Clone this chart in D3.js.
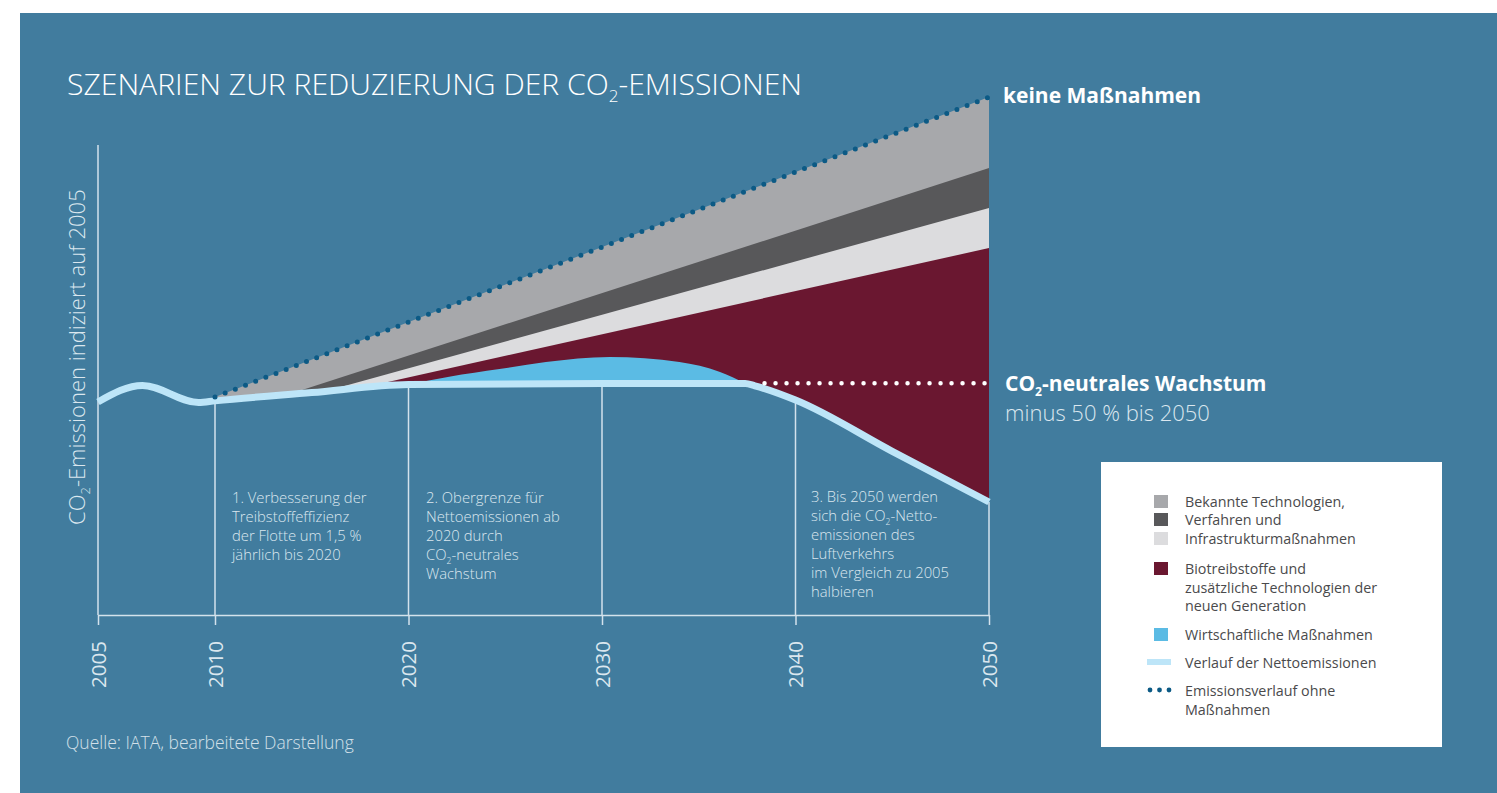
<!DOCTYPE html>
<html lang="de">
<head>
    <meta charset="UTF-8">
    <title>Szenarien CO2</title>
    <script src="https://cdn.jsdelivr.net/npm/d3@7"></script>
    <style>
        body { margin: 0; background: #fff; }
        svg { display: block; font-family: "Open Sans", "Noto Sans", sans-serif; }
    </style>
</head>
<body>
<div id="graphic"></div>

<script>
    // axis ticks
    var tickYears = [2005, 2010, 2020, 2030, 2040, 2050];

    // net emissions (index, 2005 = 100)
    var netYears  = [2005, 2006.9, 2009.3, 2010, 2015, 2020, 2030, 2037.4, 2037.9, 2040, 2045, 2050];
    var netValues = [100.5, 108.3, 100.2, 101, 104.9, 108.7, 109.2, 109.2, 108.1, 101.4, 77.2, 53.3];

    // emissions without measures
    var noMeasureYears  = [2010, 2050];
    var noMeasureValues = [102.8, 244.3];

    // reduction bands: start on the net line, end at 2050
    var bandNames       = ['Bekannte Technologien', 'Verfahren', 'Infrastrukturmaßnahmen', 'Biotreibstoffe'];
    var bandStartYears  = [2010, 2013.9, 2015.8, 2017.6];
    var bandStartValues = [102.8, 104.4, 105.8, 107.2];
    var bandEndValues   = [244.3, 210.8, 192, 173.1];
    var bandColors      = ['#a7a8ab', '#58585a', '#dcdcde', '#6a1730'];

    // economic measures (bump above net line)
    var bumpYears  = [2020, 2022.1, 2024.7, 2027.1, 2030.4, 2034, 2036.1, 2037.4];
    var bumpValues = [108.7, 112.4, 116, 119.3, 121.7, 119.3, 114.6, 109.2];

    // co2-neutral growth level
    var neutralYears  = [2038.4, 2050];
    var neutralValues = [109.3, 109.3];

    var legendItems = [
        {type: 'rect', color: '#a7a8ab', lines: ['Bekannte Technologien,']},
        {type: 'rect', color: '#58585a', lines: ['Verfahren und']},
        {type: 'rect', color: '#dcdcde', lines: ['Infrastrukturmaßnahmen']},
        {type: 'rect', color: '#6a1730', lines: ['Biotreibstoffe und', 'zusätzliche Technologien der', 'neuen Generation']},
        {type: 'rect', color: '#5bbbe4', lines: ['Wirtschaftliche Maßnahmen']},
        {type: 'line', color: '#bde5f8', lines: ['Verlauf der Nettoemissionen']},
        {type: 'dots', color: '#0c5a85', lines: ['Emissionsverlauf ohne', 'Maßnahmen']}
    ];

    var width = 1497;
    var height = 793;
    var bg = '#417c9e';
    var textLight = '#dbe7ef';

    var svg = d3.select('#graphic')
                .append('svg')
                .attr('width', width)
                .attr('height', height);

    svg.append('rect')
        .attr('x', 20).attr('y', 13)
        .attr('width', width - 20).attr('height', height - 13)
        .attr('fill', bg);

    // scales (2005-2010 is drawn wider than the rest)
    var x = d3.scaleLinear().domain([2005, 2010, 2050]).range([98, 215, 989]);
    var y = d3.scaleLinear().domain([0, 250]).range([615, 85]);

    var net = netYears.map((yr, i) => ({year: yr, value: netValues[i]}));
    var netAt = d3.scaleLinear().domain(netYears).range(netValues);

    var defs = svg.append('defs');

    // clip = everything above the net emissions line
    var aboveNet = d3.area()
        .curve(d3.curveMonotoneX)
        .x(d => x(d.year))
        .y0(0)
        .y1(d => y(d.value));

    defs.append('clipPath')
        .attr('id', 'above-net')
        .append('path')
        .attr('d', aboveNet(net));

    var chart = svg.append('g');
    var bands = chart.append('g').attr('clip-path', 'url(#above-net)');

    var bandArea = d3.area()
        .x(d => x(d[0]))
        .y0(y(0))
        .y1(d => y(d[1]));

    bandNames.forEach(function(name, i) {
        bands.append('path')
            .attr('class', 'band')
            .attr('d', bandArea([[bandStartYears[i], bandStartValues[i]], [2050, bandEndValues[i]]]))
            .attr('fill', bandColors[i]);
    });

    var bumpArea = d3.area()
        .curve(d3.curveMonotoneX)
        .x(d => x(d[0]))
        .y0(y(0))
        .y1(d => y(d[1]));

    bands.append('path')
        .attr('d', bumpArea(bumpYears.map((yr, i) => [yr, bumpValues[i]])))
        .attr('fill', '#5bbbe4');

    // grid lines up to the net line
    chart.selectAll('.grid')
        .data(tickYears.slice(1))
        .join('line')
        .attr('class', 'grid')
        .attr('x1', d => x(d)).attr('x2', d => x(d))
        .attr('y1', y(0))
        .attr('y2', d => y(netAt(d)))
        .attr('stroke', '#d3e2ec')
        .attr('stroke-width', 1.5);

    // y axis line
    chart.append('line')
        .attr('x1', x(2005)).attr('x2', x(2005))
        .attr('y1', y(0)).attr('y2', 145)
        .attr('stroke', '#d3e2ec')
        .attr('stroke-width', 1.5);

    // x axis
    var xAxis = chart.append('g')
        .attr('transform', 'translate(0,' + y(0) + ')')
        .call(d3.axisBottom(x).tickValues(tickYears).tickFormat(d3.format('d')).tickSize(10).tickSizeOuter(0));

    xAxis.select('.domain').attr('stroke', '#d3e2ec').attr('stroke-width', 1.5);
    xAxis.selectAll('.tick line').attr('stroke', '#d3e2ec').attr('stroke-width', 1.5);
    xAxis.selectAll('.tick text')
        .attr('transform', 'rotate(-90)')
        .attr('x', -26)
        .attr('y', 0)
        .attr('dy', '0.36em')
        .attr('text-anchor', 'end')
        .attr('fill', textLight)
        .attr('font-size', 20.5)
        .attr('font-weight', 400)
        .attr('font-family', '"Open Sans", sans-serif');

    // net emissions line
    var netLine = d3.line()
        .curve(d3.curveMonotoneX)
        .x(d => x(d.year))
        .y(d => y(d.value));

    chart.append('path')
        .attr('d', netLine(net))
        .attr('fill', 'none')
        .attr('stroke', '#bde5f8')
        .attr('stroke-width', 7);

    // dotted lines
    var straight = d3.line().x(d => x(d[0])).y(d => y(d[1]));

    chart.append('path')
        .attr('d', straight(noMeasureYears.map((yr, i) => [yr, noMeasureValues[i]])))
        .attr('fill', 'none')
        .attr('stroke', '#0c5a85')
        .attr('stroke-width', 5)
        .attr('stroke-linecap', 'round')
        .attr('stroke-dasharray', '0 10.9');

    chart.append('path')
        .attr('d', straight(neutralYears.map((yr, i) => [yr, neutralValues[i]])))
        .attr('fill', 'none')
        .attr('stroke', '#ffffff')
        .attr('stroke-width', 4.5)
        .attr('stroke-linecap', 'round')
        .attr('stroke-dasharray', '0 11');

    // title
    var title = svg.append('text')
        .attr('x', 67).attr('y', 95)
        .attr('fill', '#ffffff')
        .attr('font-size', 30)
        .attr('font-weight', 300)
        .attr('textLength', 735)
        .attr('lengthAdjust', 'spacingAndGlyphs');
    title.append('tspan').text('SZENARIEN ZUR REDUZIERUNG DER CO');
    title.append('tspan').attr('font-size', 17).attr('dy', 7).text('2');
    title.append('tspan').attr('dy', -7).text('-EMISSIONEN');

    // y label
    var yLabel = svg.append('text')
        .attr('transform', 'translate(85,525) rotate(-90)')
        .attr('fill', textLight)
        .attr('font-size', 22)
        .attr('font-weight', 300);
    yLabel.append('tspan').text('CO');
    yLabel.append('tspan').attr('font-size', 13).attr('dy', 5).text('2');
    yLabel.append('tspan').attr('dy', -5).text('-Emissionen indiziert auf 2005');

    // multi-line text with optional CO2 subscript
    function block(g, lines, x0, y0, lh, size, color, weight) {
        lines.forEach(function(line, i) {
            var t = g.append('text')
                .attr('x', x0).attr('y', y0 + i * lh)
                .attr('fill', color)
                .attr('font-size', size)
                .attr('font-weight', weight);
            var parts = line.split('CO2');
            var shift = Math.round(size * 0.24);
            parts.forEach(function(p, j) {
                var s = t.append('tspan').text(p);
                if (j > 0) s.attr('dy', -shift);
                if (j < parts.length - 1) {
                    t.append('tspan').text('CO');
                    t.append('tspan').attr('font-size', size * 0.58).attr('dy', shift).text('2');
                }
            });
        });
    }

    var notes = svg.append('g');
    block(notes, ['1. Verbesserung der', 'Treibstoffeffizienz', 'der Flotte um 1,5 %', 'jährlich bis 2020'],
        232, 503, 19, 14.8, textLight, 300);
    block(notes, ['2. Obergrenze für', 'Nettoemissionen ab', '2020 durch', 'CO2-neutrales', 'Wachstum'],
        426, 503, 19, 14.8, textLight, 300);
    block(notes, ['3. Bis 2050 werden', 'sich die CO2-Netto-', 'emissionen des', 'Luftverkehrs', 'im Vergleich zu 2005', 'halbieren'],
        811, 502, 19, 14.8, textLight, 300);

    // right-hand labels
    block(svg, ['keine Maßnahmen'], 1003, 103, 0, 21, '#ffffff', 700);
    block(svg, ['CO2-neutrales Wachstum'], 1005, 391, 0, 21, '#ffffff', 700);
    block(svg, ['minus 50 % bis 2050'], 1005, 421, 0, 22, textLight, 300);

    // source
    svg.append('text')
        .attr('x', 66).attr('y', 749)
        .attr('fill', '#d3e0e9')
        .attr('font-size', 17.5)
        .attr('font-weight', 300)
        .text('Quelle: IATA, bearbeitete Darstellung');

    // legend
    var legend = svg.append('g');
    legend.append('rect')
        .attr('x', 1101).attr('y', 462)
        .attr('width', 341).attr('height', 285)
        .attr('fill', '#ffffff');

    var legendTops = [495, 513, 532, 562, 628, 656, 684];
    legendItems.forEach(function(item, i) {
        var top = legendTops[i];
        if (item.type === 'rect') {
            legend.append('rect')
                .attr('x', 1154).attr('y', top)
                .attr('width', 14).attr('height', 13)
                .attr('fill', item.color);
        } else if (item.type === 'line') {
            legend.append('line')
                .attr('x1', 1147).attr('x2', 1171)
                .attr('y1', top + 6).attr('y2', top + 6)
                .attr('stroke', item.color)
                .attr('stroke-width', 6);
        } else {
            legend.selectAll('.legend-dot')
                .data([0, 1, 2])
                .join('circle')
                .attr('class', 'legend-dot')
                .attr('cx', d => 1150 + d * 9.5)
                .attr('cy', top + 6)
                .attr('r', 2.4)
                .attr('fill', item.color);
        }
        block(legend, item.lines, 1185, top + 12, 18.5, 14.3, '#4a4a4c', 400);
    });
</script>
</body>
</html>
